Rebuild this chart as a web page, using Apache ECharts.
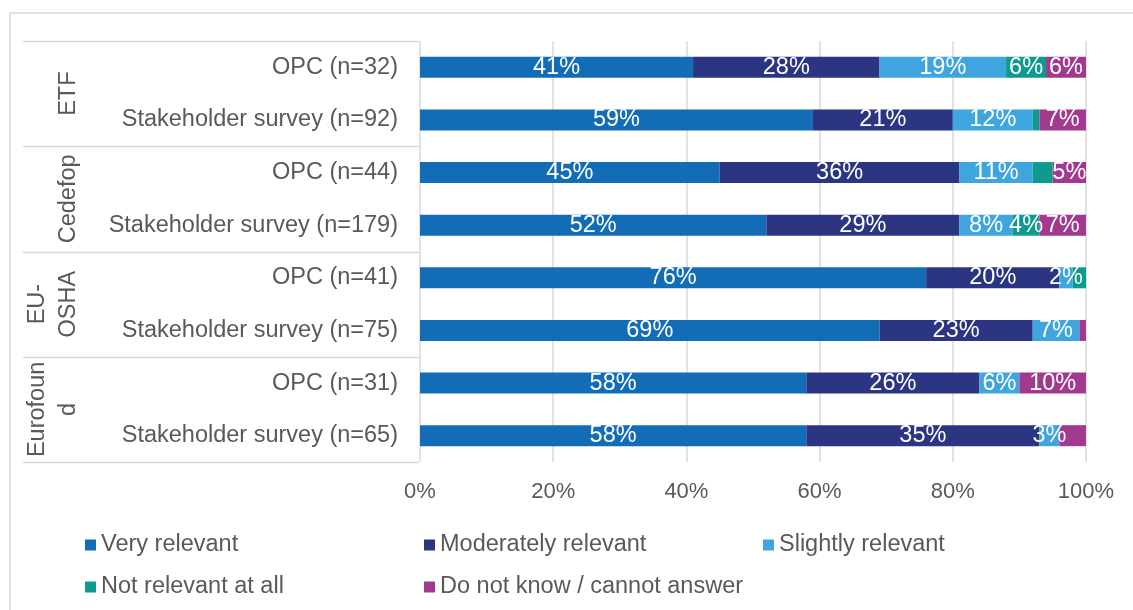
<!DOCTYPE html>
<html>
<head>
<meta charset="utf-8">
<title>Relevance of agency work by stakeholder group</title>
<script src="https://cdn.jsdelivr.net/npm/echarts@6/dist/echarts.min.js"></script>
<style>
  html, body { margin: 0; padding: 0; background: #ffffff; }
  #chart { width: 1133px; height: 610px; }
</style>
</head>
<body>
<div id="chart"></div>
<script>
// Rows, top to bottom: two consultation sources per agency
const categories = [
  'OPC (n=32)', 'Stakeholder survey (n=92)',
  'OPC (n=44)', 'Stakeholder survey (n=179)',
  'OPC (n=41)', 'Stakeholder survey (n=75)',
  'OPC (n=31)', 'Stakeholder survey (n=65)'
];
// Agency groups, each covering two rows
const groups = ['ETF', 'Cedefop', 'EU-\nOSHA', 'Eurofoun\nd'];

// Shares of answers (%)
const veryRelevant       = [41, 59, 45, 52, 76, 69, 58, 58];
const moderatelyRelevant = [28, 21, 36, 29, 20, 23, 26, 35];
const slightlyRelevant   = [19, 12, 11,  8,  2,  7,  6,  3];
const notRelevantAtAll   = [ 6,  1,  3,  4,  2,  0,  0,  0];
const doNotKnow          = [ 6,  7,  5,  7,  0,  1, 10,  4];

// Small segments whose value is left unlabelled (row indices)
const unlabelledNotRelevant = [1, 2, 4];
const unlabelledDoNotKnow   = [5, 7];

const seriesNames = ['Very relevant', 'Moderately relevant', 'Slightly relevant',
                     'Not relevant at all', 'Do not know / cannot answer'];
const seriesColors = ['#126db6', '#2b3582', '#3fa5de', '#0e9a8e', '#a1398f'];
const seriesValues = [veryRelevant, moderatelyRelevant, slightlyRelevant, notRelevantAtAll, doNotKnow];
const seriesUnlabelled = [[], [], [], unlabelledNotRelevant, unlabelledDoNotKnow];

const xTicks = { min: 0, max: 100, interval: 20 };

const FONT = '"Liberation Sans", Arial, sans-serif';
const TEXT_SIZE = 23.5;
const TICK_SIZE = 22;
const GREY_TEXT = '#595959';
const LINE_GREY = '#d9d9d9';
const GRID = { left: 420, right: 47, top: 41, bottom: 148 };

const chart = echarts.init(document.getElementById('chart'), null, { renderer: 'canvas' });

const series = seriesNames.map((name, s) => ({
  name: name,
  type: 'bar',
  stack: 'total',
  barWidth: 21,
  itemStyle: { color: seriesColors[s] },
  label: {
    show: true,
    position: 'inside',
    color: '#ffffff',
    fontFamily: FONT,
    fontSize: TEXT_SIZE,
    formatter: p => (p.value > 0 ? p.value + '%' : '')
  },
  data: seriesValues[s].map((v, i) =>
    seriesUnlabelled[s].indexOf(i) >= 0 ? { value: v, label: { show: false } } : v)
}));

// Frame, group separators and rotated group names on the left
function buildGraphics() {
  const g = [];
  g.push({
    type: 'rect',
    shape: { x: 10, y: 13, width: 1300, height: 800 },
    style: { fill: null, stroke: LINE_GREY, lineWidth: 1.5 },
    silent: true
  });
  const plotH = 610 - GRID.top - GRID.bottom;
  const rowH = plotH / categories.length;
  const groupH = rowH * 2;
  for (let k = 0; k <= groups.length; k++) {
    const y = Math.round(GRID.top + k * groupH) + 0.5;
    g.push({
      type: 'line',
      shape: { x1: 23, y1: y, x2: GRID.left - 1, y2: y },
      style: { stroke: LINE_GREY, lineWidth: 1.5 },
      silent: true
    });
  }
  const lineH = 31;
  groups.forEach((name, k) => {
    const lines = name.split('\n').length;
    const cy = GRID.top + (k + 0.5) * groupH;
    const cx = 69 - (lines - 1) * lineH / 2;
    g.push({
      type: 'text',
      x: cx,
      y: cy,
      rotation: Math.PI / 2,
      style: {
        text: name,
        fill: GREY_TEXT,
        font: TEXT_SIZE + 'px ' + FONT,
        align: 'center',
        verticalAlign: 'middle',
        lineHeight: lineH
      },
      silent: true
    });
  });
  return g;
}

const legendCommon = {
  orient: 'horizontal',
  left: 85,
  padding: 0,
  icon: 'rect',
  itemWidth: 11,
  itemHeight: 11,
  itemGap: 10,
  selectedMode: false,
  textStyle: { color: GREY_TEXT, fontFamily: FONT, fontSize: TEXT_SIZE, lineHeight: 24, width: 313 }
};

chart.setOption({
  backgroundColor: '#ffffff',
  animation: false,
  textStyle: { fontFamily: FONT },
  grid: GRID,
  legend: [
    Object.assign({}, legendCommon, { top: 533, data: seriesNames.slice(0, 3) }),
    Object.assign({}, legendCommon, { top: 575, data: seriesNames.slice(3) })
  ],
  xAxis: {
    type: 'value',
    min: xTicks.min,
    max: xTicks.max,
    interval: xTicks.interval,
    axisLine: { show: false },
    axisTick: { show: false },
    splitLine: { show: true, lineStyle: { color: LINE_GREY, width: 1.5 } },
    axisLabel: { formatter: '{value}%', color: GREY_TEXT, fontFamily: FONT, fontSize: TICK_SIZE, margin: 19 }
  },
  yAxis: {
    type: 'category',
    inverse: true,
    data: categories,
    axisLine: { show: false },
    axisTick: { show: false },
    axisLabel: { color: GREY_TEXT, fontFamily: FONT, fontSize: TEXT_SIZE, margin: 22 }
  },
  series: series,
  graphic: buildGraphics()
});
</script>
</body>
</html>
